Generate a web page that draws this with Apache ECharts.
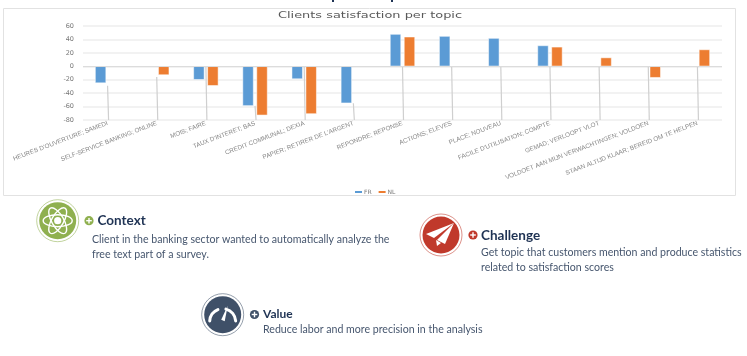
<!DOCTYPE html>
<html>
<head>
<meta charset="utf-8">
<style>
html, body { margin: 0; padding: 0; background: #fff; }
#chart { width: 747px; height: 356px; }
</style>
</head>
<body>
<div id="chart"></div>
<script src="https://cdn.jsdelivr.net/npm/echarts@6/dist/echarts.min.js"></script>
<script>
const topics = [
  "HEURES D'OUVERTURE; SAMEDI", 'SELF-SERVICE BANKING; ONLINE', 'MOIS; FAIRE', "TAUX D'INTERET; BAS",
  'CREDIT COMMUNAL; DEXIA', "PAPIER; RETIRER DE L'ARGENT", 'REPONDRE; REPONSE', 'ACTIONS; ELEVES',
  'PLACE; NOUVEAU', "FACILE D'UTILISATION; COMPTE", 'GEMAD; VERLOOPT VLOT',
  'VOLDOET AAN MIJN VERWACHTINGEN; VOLDOEN', 'STAAN ALTIJD KLAAR; BEREID OM TE HELPEN'
];
const fr = [-25, null, -20, -59, -19, -55, 48, 45, 42, 31, null, null, null];
const nl = [null, -13, -29, -73, -71, null, 44, null, null, 29, 13, -17, 25];
// where the grey label leader lines start, they all run down to the axis
const leaderTop = [-29, -16, 0, -59, 0, -55, 0, 0, 0, 0, 0, 0, 0];

const bodyFont = 'Lato, "Noto Sans", sans-serif';
const headColor = '#1f3354';
const textColor = '#46566e';

function label(x, y, text, size, weight, color) {
  return {
    type: 'text', x: x, y: y,
    style: { text: text, font: weight + ' ' + size + 'px ' + bodyFont, fill: color, verticalAlign: 'middle' }
  };
}
function badge(x, y, color) {
  return [
    { type: 'circle', shape: { cx: x, cy: y, r: 21 }, style: { fill: '#fff', stroke: color, lineWidth: 0.8, opacity: 0.7 } },
    { type: 'circle', shape: { cx: x, cy: y, r: 18.5 }, style: { fill: color } }
  ];
}
function bullet(x, y, color) {
  return [
    { type: 'circle', shape: { cx: x, cy: y, r: 4.6 }, style: { fill: color } },
    { type: 'rect', shape: { x: x - 2.8, y: y - 0.7, width: 5.6, height: 1.4 }, style: { fill: '#fff' } },
    { type: 'rect', shape: { x: x - 0.7, y: y - 2.8, width: 1.4, height: 5.6 }, style: { fill: '#fff' } }
  ];
}
function atom(x, y) {
  const ring = { stroke: '#fff', fill: null, lineWidth: 1.4 };
  return [0, 60, 120].map(function (deg) {
    return {
      type: 'ellipse', x: x, y: y, rotation: deg * Math.PI / 180,
      shape: { cx: 0, cy: 0, rx: 14.5, ry: 6 }, style: ring
    };
  }).concat([{ type: 'circle', shape: { cx: x, cy: y, r: 3.6 }, style: { fill: '#fff' } }]);
}
function plane(x, y) {
  return [
    { type: 'polygon', shape: { points: [[x + 13, y - 12], [x - 15, y - 1], [x - 7, y + 3]] }, style: { fill: '#fff' } },
    { type: 'polygon', shape: { points: [[x + 13, y - 12], [x - 4, y + 5], [x + 4, y + 9]] }, style: { fill: '#fff' } },
    { type: 'polygon', shape: { points: [[x - 5, y + 5], [x + 0, y + 8], [x - 4, y + 11]] }, style: { fill: '#fff' } }
  ];
}
function gauge(x, y) {
  const arc = function (r0, a, b, w) {
    return {
      type: 'arc', shape: { cx: x, cy: y + 7, r: r0, startAngle: a, endAngle: b },
      style: { stroke: '#fff', fill: null, lineWidth: w, lineCap: 'round' }
    };
  };
  return [
    arc(13, Math.PI * 1.02, Math.PI * 1.38, 3),
    arc(13, Math.PI * 1.58, Math.PI * 1.98, 3),
    { type: 'polygon', shape: { points: [[x + 5, y - 9], [x - 1.5, y + 5], [x + 2, y + 6.5]] }, style: { fill: '#fff' } }
  ];
}

const chart = echarts.init(document.getElementById('chart'), null, { renderer: 'canvas' });
chart.setOption({
  animation: false,
  backgroundColor: '#fff',
  legend: {
    data: ['FR', 'NL'], left: 350, top: 184, itemWidth: 7, itemHeight: 2, itemGap: 7,
    icon: 'rect',
    itemStyle: { borderWidth: 0 },
    textStyle: { fontFamily: 'DejaVu Sans', fontSize: 6, color: '#777', padding: [0, 0, 0, -3] }
  },
  grid: { left: 83, right: 25, top: 26, bottom: 236 },
  xAxis: {
    type: 'category', data: topics, position: 'bottom',
    axisLine: { onZero: false, show: false },
    axisTick: { show: false },
    axisLabel: {
      interval: 0, rotate: 21, margin: 3, fontFamily: 'Liberation Sans', fontSize: 6.3, color: '#858585'
    }
  },
  yAxis: {
    type: 'value', min: -80, max: 60, interval: 20,
    axisLine: { show: false }, axisTick: { show: false },
    axisLabel: { fontFamily: 'DejaVu Sans', fontSize: 6.5, color: '#777', margin: 9 },
    splitLine: { lineStyle: { color: '#eeeeee', width: 1.5 } }
  },
  series: [
    {
      name: 'leader', type: 'custom', z: 1, silent: true,
      data: leaderTop.map(function (v, i) { return [i, v]; }),
      renderItem: function (params, api) {
        const a = api.coord([api.value(0), api.value(1)]);
        const b = api.coord([api.value(0), -80]);
        return {
          type: 'line',
          shape: { x1: a[0], y1: a[1], x2: b[0] + 1, y2: b[1] },
          style: { stroke: '#cfcfcf', lineWidth: 1.2 }
        };
      }
    },
    {
      name: 'FR', type: 'bar', data: fr, barWidth: 11, barGap: '27%', z: 2,
      itemStyle: { color: '#5b9bd5', borderColor: '#fff', borderWidth: 0.5 },
      markLine: {
        silent: true, symbol: 'none', label: { show: false },
        lineStyle: { color: '#dcdcdc', width: 1, type: 'solid' },
        data: [{ yAxis: 0 }]
      }
    },
    {
      name: 'NL', type: 'bar', data: nl, barWidth: 11, z: 2,
      itemStyle: { color: '#ed7d31', borderColor: '#fff', borderWidth: 0.5 }
    }
  ],
  graphic: { elements: [
    { type: 'rect', z: 0, shape: { x: 3.5, y: 8.5, width: 732, height: 187 }, style: { fill: null, stroke: '#e2e2e2', lineWidth: 1 } },
    // the slide heading above is cropped off, only these bits of it are left
    { type: 'rect', shape: { x: 332, y: 0, width: 2, height: 2 }, style: { fill: headColor } },
    { type: 'rect', shape: { x: 391, y: 0, width: 2, height: 2 }, style: { fill: headColor } },
    {
      type: 'text', x: 370, y: 16, scaleX: 1.36,
      style: {
        text: 'Clients satisfaction per topic', font: '9.5px "DejaVu Sans"', fill: '#595959',
        align: 'center', verticalAlign: 'middle'
      }
    }
  ].concat(
    badge(57.7, 220.7, '#8fb04f'), atom(57.7, 220.7), bullet(89, 220.7, '#8fb04f'),
    [
      label(97.5, 221, 'Context', 13.5, 'bold', headColor),
      label(92, 239.5, 'Client in the banking sector wanted to automatically analyze the', 10.6, 'normal', textColor),
      label(92, 254.5, 'free text part of a survey.', 10.6, 'normal', textColor)
    ],
    badge(441, 235, '#c0392b'), plane(441, 235), bullet(473, 235, '#c0392b'),
    [
      label(481, 235.5, 'Challenge', 13.5, 'bold', headColor),
      label(481, 252.5, 'Get topic that customers mention and produce statistics', 10.6, 'normal', textColor),
      label(481, 268, 'related to satisfaction scores', 10.6, 'normal', textColor)
    ],
    badge(222.7, 314.7, '#3f5068'), gauge(222.7, 314.7), bullet(254.5, 314.5, '#3f5068'),
    [
      label(263, 314, 'Value', 12, 'bold', headColor),
      label(263, 329.5, 'Reduce labor and more precision in the analysis', 10.6, 'normal', textColor)
    ]
  ) }
});
</script>
</body>
</html>
